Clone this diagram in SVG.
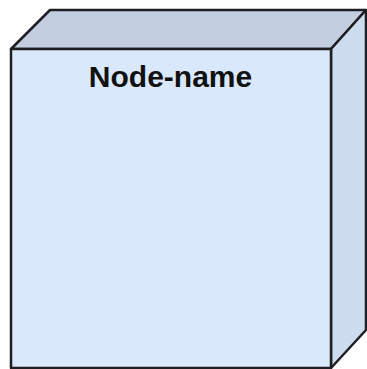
<svg xmlns="http://www.w3.org/2000/svg" width="367" height="369" viewBox="0 0 367 369">
<style>
.edge{stroke:#1f1f23;stroke-width:2.5;stroke-linejoin:round}
.lbl{font-family:"Liberation Sans",Arial,sans-serif;font-weight:bold;font-size:30px;fill:#111}
</style>
<rect width="367" height="369" fill="#ffffff"/>
<g id="node">
<polygon class="edge" points="11,49 50,10 366,10 331,49" fill="#c3cfe1"/>
<polygon class="edge" points="331,49 366,10 366,330 331,368" fill="#cedcef"/>
<rect class="edge" x="11" y="49" width="320" height="319" fill="#dae8fc"/>
<text class="lbl" x="170.5" y="87" text-anchor="middle">Node-name</text>
</g>
<g id="connectors"/>
</svg>
